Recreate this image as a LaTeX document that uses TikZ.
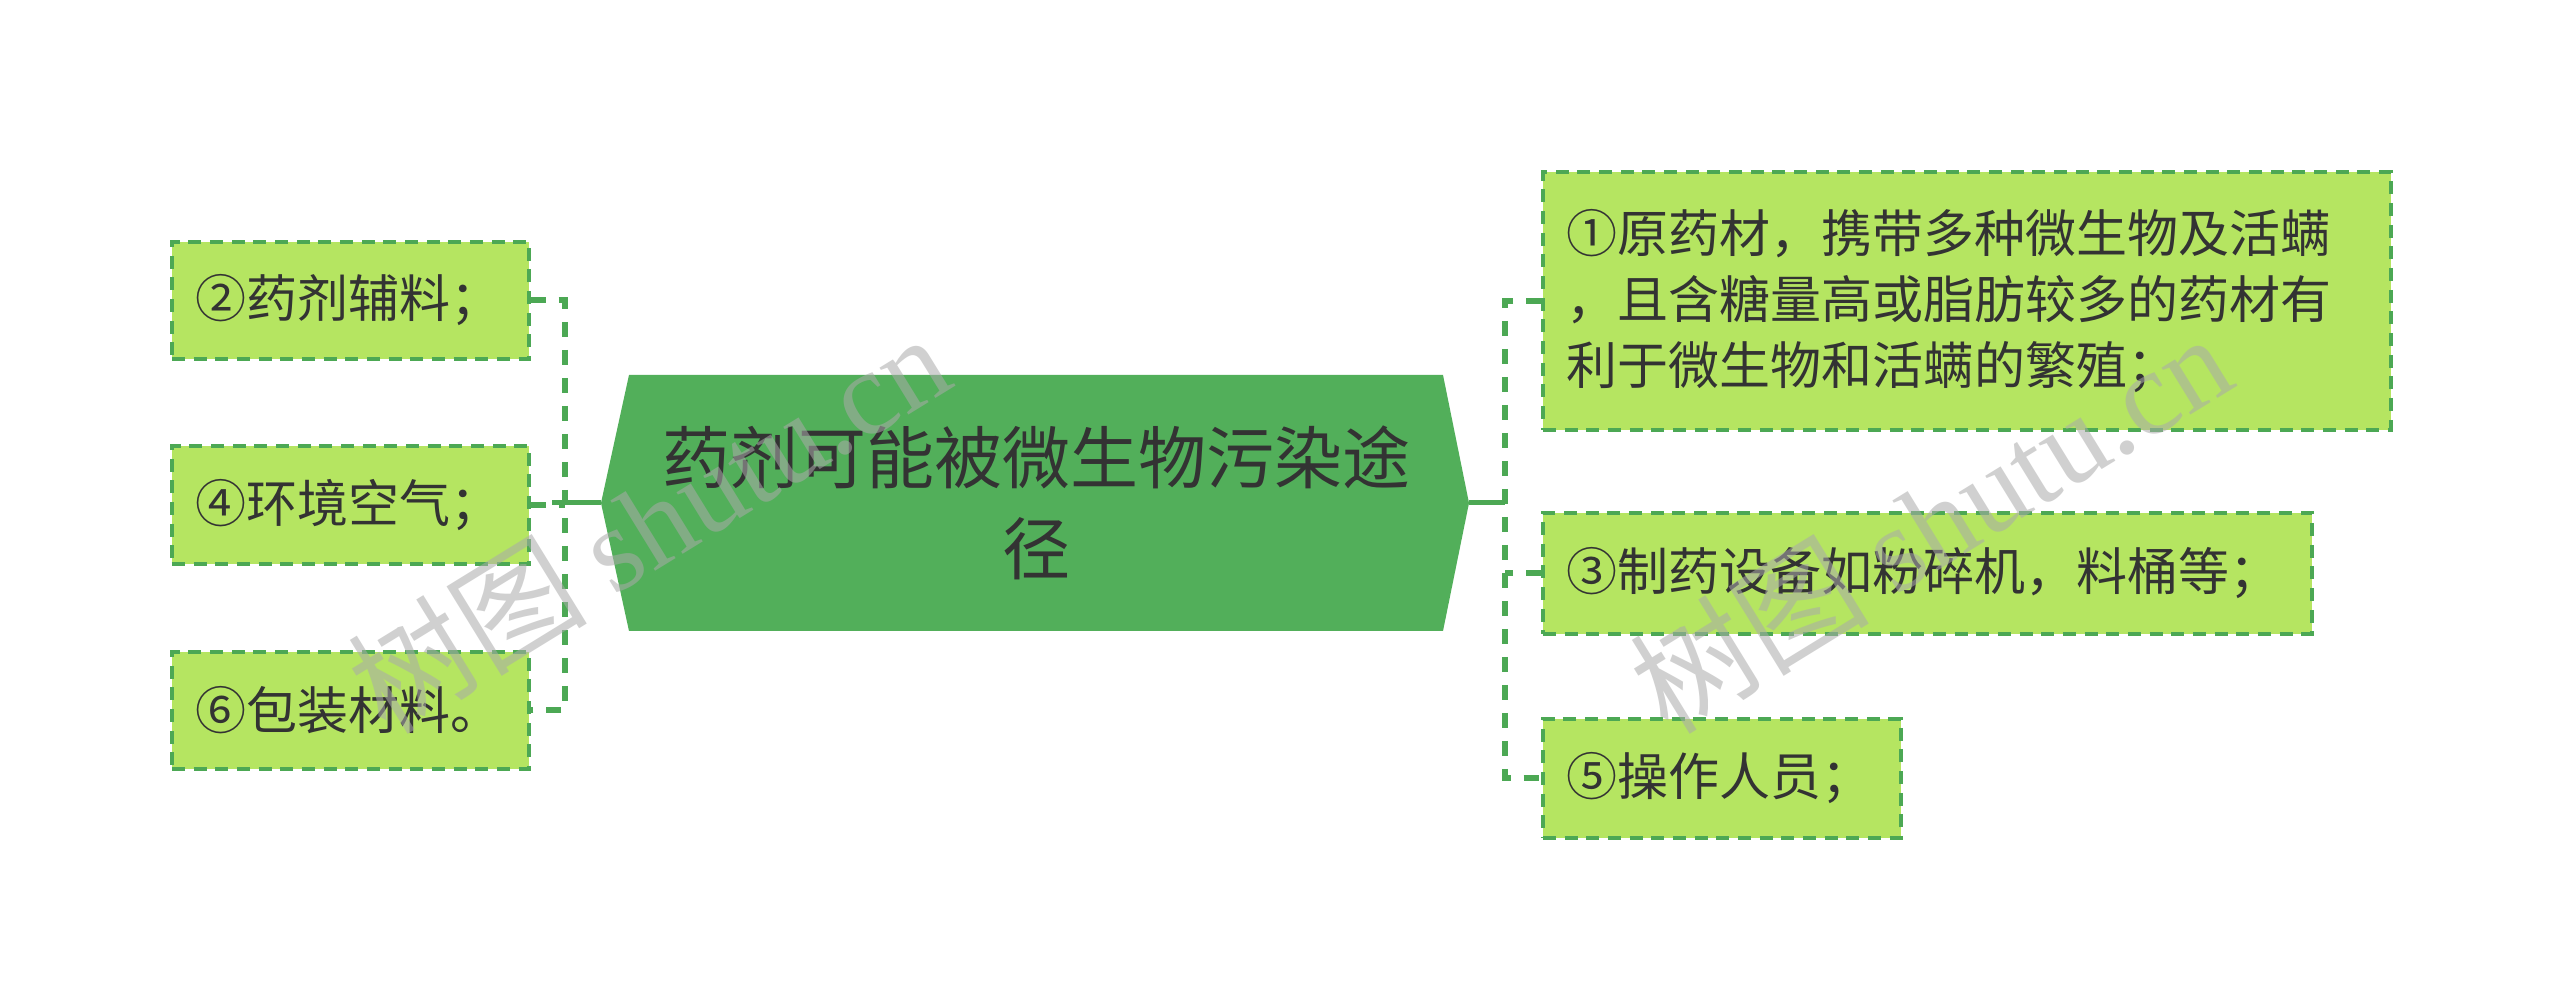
\documentclass[tikz,border=0pt]{standalone}
\usepackage{fontspec}
\setmainfont{Noto Sans CJK SC}
\newfontfamily\wmserif{Liberation Serif}
\usetikzlibrary{calc}
\definecolor{rootfill}{RGB}{82,175,90}
\definecolor{leaffill}{RGB}{181,229,97}
\definecolor{edgegreen}{RGB}{76,168,84}
\definecolor{txt}{RGB}{51,51,51}
\definecolor{wmgray}{RGB}{170,170,170}
\begin{document}
\begin{tikzpicture}[x=0.3pt,y=-0.3pt,
  leaf/.style={draw=edgegreen, fill=leaffill, line width=1.1pt,
    dash pattern=on 3.9pt off 2.6pt, rectangle, inner xsep=7.2pt, inner ysep=0pt,
    align=left, font=\fontsize{15.3pt}{19.8pt}\selectfont, text=txt, anchor=north west},
  conn/.style={draw=edgegreen, line width=1.8pt, dash pattern=on 4.5pt off 3.9pt},
  solidconn/.style={draw=edgegreen, line width=1.5pt},
  wmark/.style={text=wmgray, opacity=0.55, rotate=31.6, font=\fontsize{36pt}{40pt}\selectfont}]
\useasboundingbox (0,0) rectangle (2560,1007);
\fill[white] (0,0) rectangle (2560,1007);

% root hexagon
\coordinate (rootW) at (601,503);
\coordinate (rootE) at (1469,503);
\fill[rootfill] (629,375) -- (1443,375) -- (rootE) -- (1443,631) -- (629,631) -- (rootW) -- cycle;
\node[font=\fontsize{20.4pt}{27.3pt}\selectfont, text=txt, align=center] (root) at (1036,503) {药剂可能被微生物污染途\\径};

% bar coordinates
\coordinate (lbar) at (565,503);
\coordinate (lsolid) at (552,503);
\coordinate (rbar) at (1505,503);

% leaves
\node[leaf, text width=92.7pt, minimum height=35.1pt] (l1) at (170,240) {②药剂辅料；};
\node[leaf, text width=92.7pt, minimum height=35.4pt] (l2) at (170,444) {④环境空气；};
\node[leaf, text width=92.7pt, minimum height=35.1pt] (l3) at (170,650) {⑥包装材料。};
\node[leaf, text width=240pt, minimum height=77.4pt] (r1) at (1541,170) {①原药材，携带多种微生物及活螨\\，且含糖量高或脂肪较多的药材有\\利于微生物和活螨的繁殖；};
\node[leaf, text width=216.3pt, minimum height=36.3pt] (r3) at (1541,511) {③制药设备如粉碎机，料桶等；};
\node[leaf, text width=93pt, minimum height=35.7pt] (r5) at (1541,717) {⑤操作人员；};

% connectors
\begin{scope}[on background layer/.style={}]
\draw[conn] (l1.east) -| (lbar) |- (l3.east);
\draw[conn] (l2.east) -- (l2.east -| lbar);
\draw[solidconn] (rootW) -- (lsolid);
\draw[conn] (r1.west) -| (rbar) |- (r5.west);
\draw[conn] (r3.west) -- (r3.west -| rbar);
\draw[solidconn] (rootE) -- (rbar);
\end{scope}

% watermark
\node[wmark] (wm1) at (648,522) {树图 {\wmserif shutu.cn}};
\node[wmark] (wm2) at (1930,522) {树图 {\wmserif shutu.cn}};
\end{tikzpicture}
\end{document}
